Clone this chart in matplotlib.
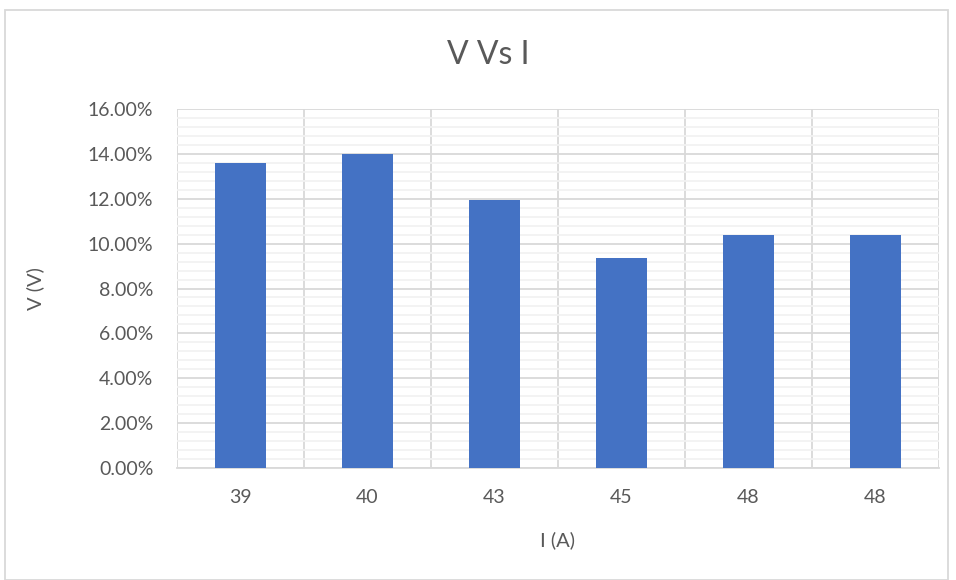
import numpy as np
import matplotlib
matplotlib.use("Agg")
import matplotlib.pyplot as plt
from matplotlib.ticker import MultipleLocator, PercentFormatter
from matplotlib.patches import Rectangle

categories = ["39", "40", "43", "45", "48", "48"]
values = [13.6, 14.0, 11.95, 9.38, 10.4, 10.4]

text_color = "#595959"
bar_color = "#4472C4"

plt.rcParams['font.family'] = ['Lato', 'DejaVu Sans']

fig = plt.figure(figsize=(9.56, 5.8), dpi=100)
ax = fig.add_axes([177 / 956, 1 - 468 / 580, (939 - 177) / 956, (468 - 109) / 580])

x = np.arange(len(categories))
ax.bar(x, values, width=0.4, color=bar_color, zorder=3)

ax.set_xlim(-0.5, len(categories) - 0.5)
ax.set_ylim(0, 16)
ax.yaxis.set_major_locator(MultipleLocator(2))
ax.yaxis.set_minor_locator(MultipleLocator(0.4))
ax.yaxis.set_major_formatter(PercentFormatter(decimals=2))
ax.set_xticks(x)
ax.set_xticklabels(categories)
ax.set_xticks(np.arange(-0.5, len(categories)), minor=True)

ax.grid(which="major", axis="y", color="#d9d9d9", linewidth=1.3, zorder=0)
ax.grid(which="minor", axis="y", color="#f2f2f2", linewidth=1.3, zorder=0)
ax.grid(which="minor", axis="x", color="#d9d9d9", linewidth=1.3, zorder=0)

for s in ["top", "right", "left"]:
    ax.spines[s].set_visible(False)
ax.spines["bottom"].set_color("#d9d9d9")
ax.spines["bottom"].set_linewidth(1.3)
ax.tick_params(which="both", length=0, labelsize=14, colors=text_color)
ax.tick_params(axis="x", pad=15)
ax.tick_params(axis="y", pad=17)

fig.suptitle("V Vs I", x=488 / 956, y=1 - 55 / 580, va="center", fontsize=23, color=text_color)
ax.set_xlabel("I (A)", fontsize=14.5, color=text_color)
ax.set_ylabel("V (V)", fontsize=14.5, color=text_color)
ax.xaxis.set_label_coords(0.5, (468 - 540) / 359)
ax.xaxis.label.set_va("center")
ax.yaxis.set_label_coords((35 - 177) / 762, 0.5)
ax.yaxis.label.set_va("center")

fig.patches.append(Rectangle((5 / 956, 0), 943 / 956, 1 - 10 / 580, transform=fig.transFigure,
                             fill=False, edgecolor="#d9d9d9", linewidth=1.3))

fig.savefig("out.png", dpi=100)
